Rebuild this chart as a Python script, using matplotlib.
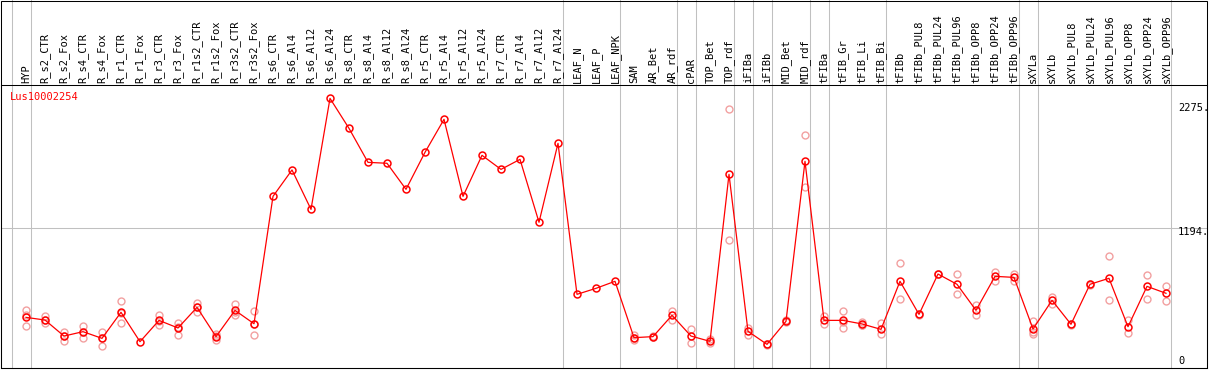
import matplotlib.pyplot as plt
from matplotlib.patches import Rectangle

gene = "Lus10002254"

samples = ["HYP", "R_s2_CTR", "R_s2_Fox", "R_s4_CTR", "R_s4_Fox", "R_r1_CTR", "R_r1_Fox",
           "R_r3_CTR", "R_r3_Fox", "R_r1s2_CTR", "R_r1s2_Fox", "R_r3s2_CTR", "R_r3s2_Fox",
           "R_s6_CTR", "R_s6_Al4", "R_s6_Al12", "R_s6_Al24", "R_s8_CTR", "R_s8_Al4",
           "R_s8_Al12", "R_s8_Al24", "R_r5_CTR", "R_r5_Al4", "R_r5_Al12", "R_r5_Al24",
           "R_r7_CTR", "R_r7_Al4", "R_r7_Al12", "R_r7_Al24", "LEAF_N", "LEAF_P", "LEAF_NPK",
           "SAM", "AR_Bet", "AR_rdf", "cPAR", "TOP_Bet", "TOP_rdf", "iFIBa", "iFIBb",
           "MID_Bet", "MID_rdf", "tFIBa", "tFIB_Gr", "tFIB_Li", "tFIB_Bi", "tFIBb",
           "tFIBb_PUL8", "tFIBb_PUL24", "tFIBb_PUL96", "tFIBb_OPP8", "tFIBb_OPP24",
           "tFIBb_OPP96", "sXYLa", "sXYLb", "sXYLb_PUL8", "sXYLb_PUL24", "sXYLb_PUL96",
           "sXYLb_OPP8", "sXYLb_OPP24", "sXYLb_OPP96"]

means = [421, 398, 259, 297, 239, 465, 210, 395, 329, 508, 254, 482, 366,
         1471, 1700, 1358, 2321, 2061, 1766, 1758, 1532, 1853, 2139, 1471, 1827,
         1705, 1792, 1246, 1931, 621, 673, 734,
         245, 254, 439, 259, 213, 1662, 300, 187, 387, 1775,
         395, 395, 364, 317, 734, 447, 797, 708, 482, 777, 768,
         320, 569, 361, 708, 760, 340, 690, 630]

reps = [[482, 442, 343], [430, 395, 369], [297, 216, 262], [349, 245, 297],
        [291, 176, 245], [560, 375, 459], [], [442, 355, 390], [375, 271, 338],
        [543, 465, 514], [274, 228, 257], [534, 442, 471], [473, 265, 361],
        [], [], [], [], [], [], [], [], [], [], [], [], [], [], [], [],
        [], [], [],
        [272, 240, 223], [250, 258], [479, 398], [319, 199], [233, 196],
        [2226, 1089], [332, 268], [183, 191], [398, 378], [2000, 1552],
        [433, 364], [473, 380, 332], [380, 355, 357], [369, 274], [890, 583],
        [440, 454], [800, 794], [794, 627], [528, 442], [818, 737], [800, 737],
        [392, 297, 280], [601, 537], [355, 366], [705, 711], [951, 569],
        [398, 288], [786, 583], [690, 566]]

# index of the last sample in each group
group_ends = [-1, 0, 28, 31, 34, 35, 37, 38, 39, 41, 42, 45, 52, 53, 60]

tick_vals = [0, 1194, 2275]
tick_text = ["0", "1194.", "2275."]

W, H = 1209, 370
fig = plt.figure(figsize=(W / 100, H / 100), dpi=100)
ax = fig.add_axes([1 / W, 2 / H, 1206 / W, 283 / H])
ax.set_xlim(-1.316, 62.158)
ax.set_ylim(-18.2, 2437.1)
ax.set_xticks([])
ax.set_yticks([])
for s in ax.spines.values():
    s.set_color("black")
    s.set_linewidth(0.75)

mono = "DejaVu Sans Mono"
x = list(range(len(samples)))

for g in group_ends:
    ax.axvline(g + 0.25, ymin=0, ymax=368 / 283, color="#c0c0c0", lw=0.75,
               clip_on=False, zorder=1)
ax.axhline(tick_vals[1], color="#c0c0c0", lw=0.75, zorder=1)

rx, ry = [], []
for i, r in enumerate(reps):
    rx += [i] * len(r)
    ry += r
ax.plot(rx, ry, "o", mfc="none", mec="#f2a0a0", ms=5, mew=1.0, zorder=2)
ax.plot(x, means, color="red", lw=0.9, zorder=3)
ax.plot(x, means, "o", mfc="none", mec="red", ms=5, mew=1.1, zorder=4)

for i, name in enumerate(samples):
    ax.text(i, 1 + 2 / 283, name, rotation=90, ha="center", va="bottom",
            transform=ax.get_xaxis_transform(), family=mono, fontsize=7.5,
            clip_on=False)

ax.text(8.6 / 1206, 0.9565, gene, color="red", ha="left", va="center",
        transform=ax.transAxes, family=mono, fontsize=7.5)

yt = ax.get_yaxis_transform()
for v, t in zip(tick_vals, tick_text):
    if v == 0:
        ax.text(0.976, 2 / 283, t, ha="left", va="bottom", transform=ax.transAxes,
                family=mono, fontsize=7.5)
    else:
        ax.annotate(t, (0.976, v), xycoords=yt, xytext=(0, -4),
                    textcoords="offset pixels", ha="left", va="center",
                    family=mono, fontsize=7.5)

fig.add_artist(Rectangle((1 / W, 2 / H), 1206 / W, 367.5 / H, transform=fig.transFigure,
                         fill=False, edgecolor="black", lw=0.75))

fig.savefig("out.png", dpi=100)
